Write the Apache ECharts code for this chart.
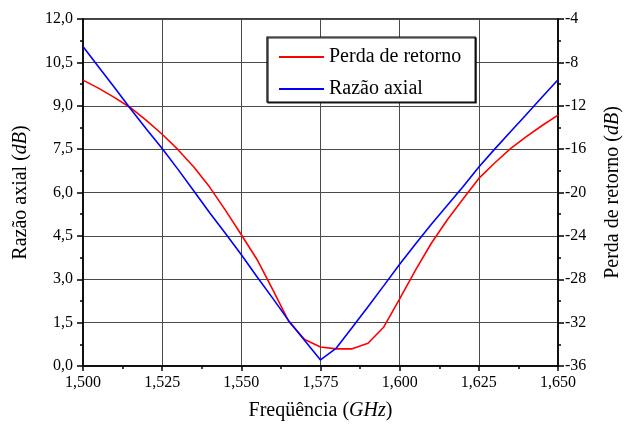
<!DOCTYPE html>
<html>
<head>
<meta charset="utf-8">
<script src="https://cdn.jsdelivr.net/npm/echarts@6/dist/echarts.min.js"></script>
<style>
  html, body { margin: 0; padding: 0; background: #fff; }
  #chart { width: 637px; height: 429px; }
</style>
</head>
<body>
<div id="chart"></div>
<script>
// frequência (GHz), passo de 0,005
const freq = [
  1.500, 1.505, 1.510, 1.515, 1.520, 1.525, 1.530, 1.535, 1.540, 1.545,
  1.550, 1.555, 1.560, 1.565, 1.570, 1.575, 1.580, 1.585, 1.590, 1.595,
  1.600, 1.605, 1.610, 1.615, 1.620, 1.625, 1.630, 1.635, 1.640, 1.645, 1.650
];
// razão axial (dB) - eixo esquerdo
const axialRatio = [
  11.05, 10.33, 9.62, 8.90, 8.20, 7.52, 6.80, 6.05, 5.30, 4.58,
  3.85, 3.08, 2.33, 1.56, 0.88, 0.21, 0.62, 1.33, 2.05, 2.78,
  3.52, 4.22, 4.90, 5.55, 6.20, 6.88, 7.50, 8.10, 8.70, 9.30, 9.90
];
// perda de retorno (dB) - eixo direito
const returnLoss = [
  -9.64, -10.40, -11.25, -12.18, -13.35, -14.63, -16.05, -17.65, -19.50, -21.65,
  -23.90, -26.20, -29.00, -31.90, -33.56, -34.25, -34.42, -34.42, -33.90, -32.40,
  -29.80, -27.16, -24.68, -22.54, -20.60, -18.70, -17.28, -15.95, -14.85, -13.82, -12.87
];

const FONT = "'Liberation Serif', 'Times New Roman', serif";
const chart = echarts.init(document.getElementById("chart"));

const tickStyle = { color: "#000", fontFamily: FONT, fontSize: 16 };
const nameStyle = {
  color: "#000",
  fontFamily: FONT,
  fontSize: 20,
  rich: { i: { fontStyle: "italic", fontFamily: FONT, fontSize: 20, color: "#000" } },
};
const axisLine = { show: true, lineStyle: { color: "#000", width: 1.5 } };

const option = {
  animation: false,
  grid: {
    left: 83, right: 79, top: 19, bottom: 63,
    show: true, borderColor: "#000", borderWidth: 1.5,
  },
  legend: {
    orient: "vertical",
    left: 267, top: 37,
    padding: [10, 14, 3, 12],
    itemGap: 12,
    itemWidth: 45,
    itemHeight: 2,
    icon: "rect",
    borderColor: "#000",
    borderWidth: 1.2,
    backgroundColor: "#fff",
    shadowColor: "#222",
    shadowOffsetX: 1,
    shadowOffsetY: 1,
    textStyle: { color: "#000", fontFamily: FONT, fontSize: 20 },
    data: ["Perda de retorno", "Razão axial"],
  },
  xAxis: {
    type: "value",
    min: 1.5, max: 1.65, interval: 0.025,
    name: "Freqüência ({i|GHz})",
    nameLocation: "middle",
    nameGap: 35,
    nameTextStyle: nameStyle,
    axisLine: axisLine,
    axisTick: { length: 5, lineStyle: { color: "#000", width: 1.5 } },
    minorTick: { show: true, splitNumber: 2, length: 3, lineStyle: { color: "#000", width: 1.5 } },
    axisLabel: { ...tickStyle, margin: 9, formatter: (v) => v.toFixed(3).replace(".", ",") },
    splitLine: { show: true, lineStyle: { color: "#4a4a4a", width: 1 } },
  },
  yAxis: [
    {
      type: "value",
      position: "left",
      min: 0, max: 12, interval: 1.5,
      name: "Razão axial ({i|dB})",
      nameLocation: "middle",
      nameRotate: 90,
      nameGap: 52,
      nameTextStyle: nameStyle,
      axisLine: axisLine,
      axisTick: { length: 6, lineStyle: { color: "#000", width: 1.5 } },
      minorTick: { show: true, splitNumber: 2, length: 3, lineStyle: { color: "#000", width: 1.5 } },
      axisLabel: { ...tickStyle, margin: 10, formatter: (v) => v.toFixed(1).replace(".", ",") },
      splitLine: { show: true, lineStyle: { color: "#4a4a4a", width: 1 } },
    },
    {
      type: "value",
      position: "right",
      min: -36, max: -4, interval: 4,
      name: "Perda de retorno ({i|dB})",
      nameLocation: "middle",
      nameRotate: 90,
      nameGap: 45,
      nameTextStyle: nameStyle,
      axisLine: axisLine,
      axisTick: { length: 6, lineStyle: { color: "#000", width: 1.5 } },
      minorTick: { show: true, splitNumber: 2, length: 3, lineStyle: { color: "#000", width: 1.5 } },
      axisLabel: { ...tickStyle, margin: 7 },
      splitLine: { show: false },
    },
  ],
  series: [
    {
      name: "Perda de retorno",
      type: "line",
      yAxisIndex: 1,
      data: freq.map((f, i) => [f, returnLoss[i]]),
      showSymbol: false,
      symbol: "none",
      lineStyle: { color: "#ff0000", width: 1.6 },
      itemStyle: { color: "#ff0000" },
    },
    {
      name: "Razão axial",
      type: "line",
      yAxisIndex: 0,
      data: freq.map((f, i) => [f, axialRatio[i]]),
      showSymbol: false,
      symbol: "none",
      lineStyle: { color: "#0000ff", width: 1.6 },
      itemStyle: { color: "#0000ff" },
    },
  ],
};

chart.setOption(option);
</script>
</body>
</html>
